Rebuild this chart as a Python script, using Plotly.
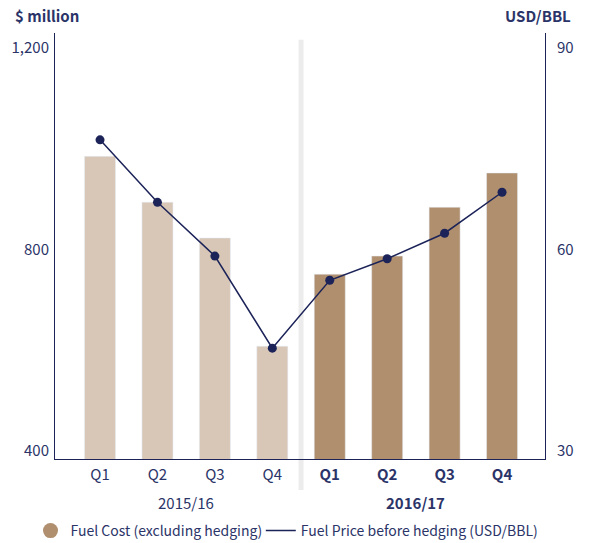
import plotly.graph_objects as go

quarters = ["Q1", "Q2", "Q3", "Q4", "Q1", "Q2", "Q3", "Q4"]
years = ["2015/16", "2016/17"]
fuel_cost = [985, 894, 823, 608, 751, 787, 884, 952]
fuel_price = [76.3, 67.0, 59.0, 45.3, 55.4, 58.6, 62.4, 68.5]
left_ticks = [400, 800, 1200]
right_ticks = [30, 60, 90]

NAVY = "#1b2358"
TEXT = "#2b3468"
LIGHT = "#d8c7b7"
DARK = "#b08f6e"
FONT = "Noto Sans CJK KR"

xpos = list(range(len(quarters)))
bar_colors = [LIGHT] * 4 + [DARK] * 4
ticktext = [q if i < 4 else f"<b>{q}</b>" for i, q in enumerate(quarters)]

fig = go.Figure()
fig.add_trace(go.Bar(x=xpos, y=fuel_cost, marker_color=bar_colors, width=0.54,
                     showlegend=False))
fig.add_trace(go.Scatter(x=xpos, y=fuel_price, yaxis="y2", mode="lines+markers",
                         line=dict(color=NAVY, width=1.5),
                         marker=dict(color=NAVY, size=9), showlegend=False))
# legend entries
fig.add_trace(go.Scatter(x=[None], y=[None], mode="markers",
                         marker=dict(color=DARK, size=15, symbol="circle"),
                         name="Fuel Cost (excluding hedging)", legend="legend"))
fig.add_trace(go.Scatter(x=[None], y=[None], mode="lines", yaxis="y2",
                         line=dict(color=NAVY, width=1.5),
                         name="Fuel Price before hedging (USD/BBL)", legend="legend2"))

axis_common = dict(showline=True, linecolor=NAVY, linewidth=1, showgrid=False,
                   zeroline=False, ticks="", automargin=False,
                   tickfont=dict(size=15, color=TEXT))

fig.update_layout(
    width=589, height=559,
    margin=dict(l=55, r=44, t=33, b=84),
    plot_bgcolor="white", paper_bgcolor="white",
    font=dict(family=FONT, size=15, color=TEXT),
    xaxis=dict(range=[-0.784, 7.748], tickvals=xpos, ticktext=ticktext,
               ticklabelstandoff=2, **axis_common),
    yaxis=dict(range=[384, 1230], tickvals=left_ticks,
               ticktext=[f"{v:,}" for v in left_ticks],
               ticklabelstandoff=2, **axis_common),
    yaxis2=dict(range=[28.8, 92.2], tickvals=right_ticks, overlaying="y",
                side="right", ticklabelstandoff=8, **axis_common),
    legend=dict(orientation="h", x=-0.05, xanchor="left", y=-0.169,
                yanchor="middle", font=dict(size=14, color=TEXT),
                itemwidth=30, bgcolor="rgba(0,0,0,0)"),
    legend2=dict(orientation="h", x=0.42, xanchor="left", y=-0.169,
                 yanchor="middle", font=dict(size=14, color=TEXT),
                 itemwidth=30, bgcolor="rgba(0,0,0,0)"),
    bargap=0.4,
)

# separator between fiscal years
fig.add_shape(type="line", xref="x", yref="paper", x0=3.5, x1=3.5,
              y0=-0.073, y1=0.984, line=dict(color="#ececec", width=5),
              layer="below")

# year group labels
fig.add_annotation(x=1.5, xref="x", y=-0.101, yref="paper", text=years[0],
                   showarrow=False, yanchor="middle", font=dict(size=15, color=TEXT))
fig.add_annotation(x=5.5, xref="x", y=-0.101, yref="paper", text=f"<b>{years[1]}</b>",
                   showarrow=False, yanchor="middle", font=dict(size=15, color=TEXT))

# axis titles
fig.add_annotation(x=-0.086, xref="paper", y=1.040, yref="paper", text="<b>$ million</b>",
                   xanchor="left", yanchor="middle",
                   showarrow=False, font=dict(size=15, color=TEXT))
fig.add_annotation(x=1.057, xref="paper", y=1.040, yref="paper", text="<b>USD/BBL</b>",
                   xanchor="right", yanchor="middle",
                   showarrow=False, font=dict(size=15, color=TEXT))

fig.write_html("out.html", config={"displayModeBar": False},
               post_script="document.body.style.margin='0';document.body.style.overflow='hidden';")
